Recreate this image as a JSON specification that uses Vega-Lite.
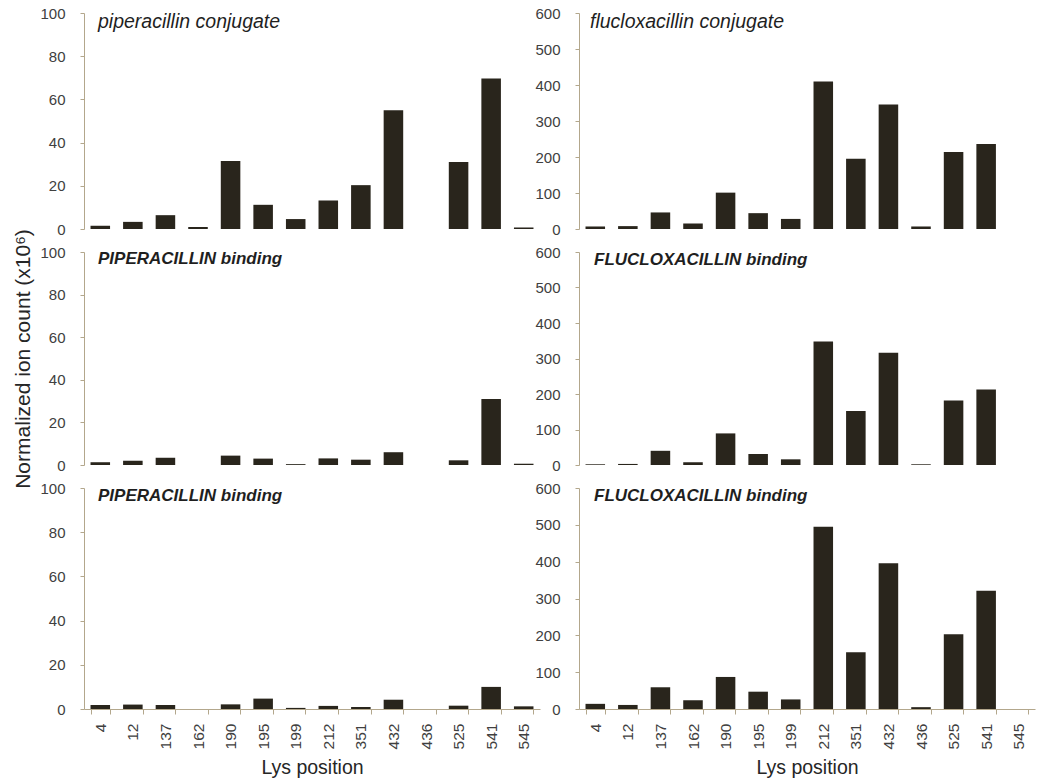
{
  "$schema": "https://vega.github.io/schema/vega-lite/v6.json",
  "background": "white",
  "padding": {"left": 12, "top": 6, "right": 5, "bottom": 5},
  "config": {
    "view": {"stroke": null},
    "font": "Liberation Sans",
    "bar": {"color": "#29251c"},
    "axis": {
      "domainColor": "#b3a78c", "tickColor": "#b3a78c", "labelColor": "#404040",
      "labelFont": "Liberation Sans", "labelFontSize": 15, "grid": false,
      "titleFont": "Liberation Sans", "titleFontWeight": "normal", "titleColor": "#262626"
    },
    "title": {"anchor": "start", "frame": "group", "baseline": "top", "color": "#1f1f1f", "font": "Liberation Sans"}
  },
  "datasets": {
    "bars": [
      {"panel": "pc", "lys": "4", "value": 1.5}, {"panel": "pc", "lys": "12", "value": 3.3}, {"panel": "pc", "lys": "137", "value": 6.4}, {"panel": "pc", "lys": "162", "value": 0.9}, {"panel": "pc", "lys": "190", "value": 31.5}, {"panel": "pc", "lys": "195", "value": 11.2}, {"panel": "pc", "lys": "199", "value": 4.6}, {"panel": "pc", "lys": "212", "value": 13.2}, {"panel": "pc", "lys": "351", "value": 20.3}, {"panel": "pc", "lys": "432", "value": 55}, {"panel": "pc", "lys": "525", "value": 31}, {"panel": "pc", "lys": "541", "value": 69.7}, {"panel": "pc", "lys": "545", "value": 0.7},
      {"panel": "fc", "lys": "4", "value": 7}, {"panel": "fc", "lys": "12", "value": 8}, {"panel": "fc", "lys": "137", "value": 46}, {"panel": "fc", "lys": "162", "value": 15}, {"panel": "fc", "lys": "190", "value": 101}, {"panel": "fc", "lys": "195", "value": 44}, {"panel": "fc", "lys": "199", "value": 28}, {"panel": "fc", "lys": "212", "value": 410}, {"panel": "fc", "lys": "351", "value": 195}, {"panel": "fc", "lys": "432", "value": 346}, {"panel": "fc", "lys": "436", "value": 7}, {"panel": "fc", "lys": "525", "value": 214}, {"panel": "fc", "lys": "541", "value": 236},
      {"panel": "pb", "lys": "4", "value": 1.3}, {"panel": "pb", "lys": "12", "value": 2.0}, {"panel": "pb", "lys": "137", "value": 3.4}, {"panel": "pb", "lys": "190", "value": 4.4}, {"panel": "pb", "lys": "195", "value": 3.0}, {"panel": "pb", "lys": "199", "value": 0.4}, {"panel": "pb", "lys": "212", "value": 3.1}, {"panel": "pb", "lys": "351", "value": 2.5}, {"panel": "pb", "lys": "432", "value": 6.0}, {"panel": "pb", "lys": "525", "value": 2.2}, {"panel": "pb", "lys": "541", "value": 31}, {"panel": "pb", "lys": "545", "value": 0.6},
      {"panel": "fb", "lys": "4", "value": 2}, {"panel": "fb", "lys": "12", "value": 3}, {"panel": "fb", "lys": "137", "value": 40}, {"panel": "fb", "lys": "162", "value": 8}, {"panel": "fb", "lys": "190", "value": 89}, {"panel": "fb", "lys": "195", "value": 31}, {"panel": "fb", "lys": "199", "value": 16}, {"panel": "fb", "lys": "212", "value": 348}, {"panel": "fb", "lys": "351", "value": 152}, {"panel": "fb", "lys": "432", "value": 316}, {"panel": "fb", "lys": "436", "value": 2}, {"panel": "fb", "lys": "525", "value": 182}, {"panel": "fb", "lys": "541", "value": 213},
      {"panel": "pb2", "lys": "4", "value": 1.8}, {"panel": "pb2", "lys": "12", "value": 2.0}, {"panel": "pb2", "lys": "137", "value": 1.8}, {"panel": "pb2", "lys": "190", "value": 2.1}, {"panel": "pb2", "lys": "195", "value": 4.7}, {"panel": "pb2", "lys": "199", "value": 0.5}, {"panel": "pb2", "lys": "212", "value": 1.4}, {"panel": "pb2", "lys": "351", "value": 0.9}, {"panel": "pb2", "lys": "432", "value": 4.2}, {"panel": "pb2", "lys": "525", "value": 1.5}, {"panel": "pb2", "lys": "541", "value": 10}, {"panel": "pb2", "lys": "545", "value": 1.2},
      {"panel": "fb2", "lys": "4", "value": 14}, {"panel": "fb2", "lys": "12", "value": 11}, {"panel": "fb2", "lys": "137", "value": 59}, {"panel": "fb2", "lys": "162", "value": 24}, {"panel": "fb2", "lys": "190", "value": 87}, {"panel": "fb2", "lys": "195", "value": 47}, {"panel": "fb2", "lys": "199", "value": 26}, {"panel": "fb2", "lys": "212", "value": 495}, {"panel": "fb2", "lys": "351", "value": 154}, {"panel": "fb2", "lys": "432", "value": 396}, {"panel": "fb2", "lys": "436", "value": 5}, {"panel": "fb2", "lys": "525", "value": 203}, {"panel": "fb2", "lys": "541", "value": 321}
    ]
  },
  "bounds": "flush",
  "columns": 2,
  "spacing": {"row": 23, "column": 39},
  "concat": [
    {
      "width": 456, "height": 216,
      "data": {"name": "bars"},
      "transform": [{"filter": "datum.panel === 'pc'"}],
      "title": {"text": "piperacillin conjugate", "fontSize": 19.5, "fontStyle": "italic", "fontWeight": "normal", "offset": -26, "dx": 14},
      "mark": {"type": "bar"},
      "encoding": {
        "x": {"field": "lys", "type": "nominal", "scale": {"domain": ["4","12","137","162","190","195","199","212","351","432","436","525","541","545"], "paddingInner": 0.4, "paddingOuter": 0.2}, "axis": null},
        "y": {"field": "value", "type": "quantitative", "scale": {"domain": [0, 100]}, "axis": {"values": [0,20,40,60,80,100], "title": null, "tickSize": 4, "labelPadding": 15}}
      }
    },
    {
      "width": 456, "height": 216,
      "data": {"name": "bars"},
      "transform": [{"filter": "datum.panel === 'fc'"}],
      "title": {"text": "flucloxacillin conjugate", "fontSize": 19.5, "fontStyle": "italic", "fontWeight": "normal", "offset": -26, "dx": 11},
      "mark": {"type": "bar"},
      "encoding": {
        "x": {"field": "lys", "type": "nominal", "scale": {"domain": ["4","12","137","162","190","195","199","212","351","432","436","525","541","545"], "paddingInner": 0.4, "paddingOuter": 0.2}, "axis": null},
        "y": {"field": "value", "type": "quantitative", "scale": {"domain": [0, 600]}, "axis": {"values": [0,100,200,300,400,500,600], "title": null, "tickSize": 4, "labelPadding": 15}}
      }
    },
    {
      "width": 456, "height": 213,
      "data": {"name": "bars"},
      "transform": [{"filter": "datum.panel === 'pb'"}],
      "title": {"text": "PIPERACILLIN binding", "fontSize": 17, "fontStyle": "italic", "fontWeight": "bold", "offset": -39, "dx": 14},
      "mark": {"type": "bar"},
      "encoding": {
        "x": {"field": "lys", "type": "nominal", "scale": {"domain": ["4","12","137","162","190","195","199","212","351","432","436","525","541","545"], "paddingInner": 0.4, "paddingOuter": 0.2}, "axis": null},
        "y": {"field": "value", "type": "quantitative", "scale": {"domain": [0, 100]}, "axis": {"values": [0,20,40,60,80,100], "title": "Normalized ion count (x10⁶)", "titleFontSize": 21, "titlePadding": 6, "tickSize": 4, "labelPadding": 15}}
      }
    },
    {
      "width": 456, "height": 213,
      "data": {"name": "bars"},
      "transform": [{"filter": "datum.panel === 'fb'"}],
      "title": {"text": "FLUCLOXACILLIN binding", "fontSize": 17, "fontStyle": "italic", "fontWeight": "bold", "offset": -24, "dx": 15},
      "mark": {"type": "bar"},
      "encoding": {
        "x": {"field": "lys", "type": "nominal", "scale": {"domain": ["4","12","137","162","190","195","199","212","351","432","436","525","541","545"], "paddingInner": 0.4, "paddingOuter": 0.2}, "axis": null},
        "y": {"field": "value", "type": "quantitative", "scale": {"domain": [0, 600]}, "axis": {"values": [0,100,200,300,400,500,600], "title": null, "tickSize": 4, "labelPadding": 15}}
      }
    },
    {
      "width": 456, "height": 221,
      "data": {"name": "bars"},
      "transform": [{"filter": "datum.panel === 'pb2'"}],
      "title": {"text": "PIPERACILLIN binding", "fontSize": 17, "fontStyle": "italic", "fontWeight": "bold", "offset": -24, "dx": 14},
      "mark": {"type": "bar"},
      "encoding": {
        "x": {"field": "lys", "type": "nominal", "scale": {"domain": ["4","12","137","162","190","195","199","212","351","432","436","525","541","545"], "paddingInner": 0.4, "paddingOuter": 0.2}, "axis": {"title": "Lys position", "titleFontSize": 19.5, "titlePadding": 10, "labelAngle": -90, "tickBand": "extent", "tickSize": 5, "labelPadding": 9, "labelFontSize": 15.5}},
        "y": {"field": "value", "type": "quantitative", "scale": {"domain": [0, 100]}, "axis": {"values": [0,20,40,60,80,100], "title": null, "tickSize": 4, "labelPadding": 15}}
      }
    },
    {
      "width": 456, "height": 221,
      "data": {"name": "bars"},
      "transform": [{"filter": "datum.panel === 'fb2'"}],
      "title": {"text": "FLUCLOXACILLIN binding", "fontSize": 17, "fontStyle": "italic", "fontWeight": "bold", "offset": -24, "dx": 15},
      "mark": {"type": "bar"},
      "encoding": {
        "x": {"field": "lys", "type": "nominal", "scale": {"domain": ["4","12","137","162","190","195","199","212","351","432","436","525","541","545"], "paddingInner": 0.4, "paddingOuter": 0.2}, "axis": {"title": "Lys position", "titleFontSize": 19.5, "titlePadding": 10, "labelAngle": -90, "tickBand": "extent", "tickSize": 5, "labelPadding": 9, "labelFontSize": 15.5}},
        "y": {"field": "value", "type": "quantitative", "scale": {"domain": [0, 600]}, "axis": {"values": [0,100,200,300,400,500,600], "title": null, "tickSize": 4, "labelPadding": 15}}
      }
    }
  ]
}
